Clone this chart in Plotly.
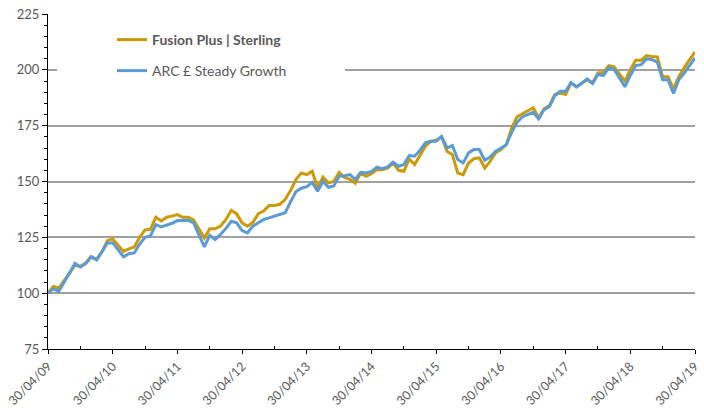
import plotly.graph_objects as go

# Monthly index (0 = 30/04/09 ... 120 = 30/04/19)
months = list(range(121))

fusion = [100, 103, 102.3, 105.5, 109, 112.5, 112, 113.5, 116.3, 115,
          118.5, 123.5, 124.3, 121.5, 118.7, 119.8, 120.7, 125, 128.3, 128.6,
          134, 132.3, 134, 134.5, 135.2, 134, 134, 132.8, 129, 124.7,
          128.8, 128.8, 130, 133, 137.1, 135.5, 131.5, 130, 131.7, 135.6,
          136.8, 139.2, 139.2, 139.8, 142, 146, 151, 153.8, 153.1, 154.6,
          147.1, 152, 149.4, 150, 154.1, 151.8, 151, 149.2, 153.8, 152.3,
          153.5, 155.3, 155.3, 156, 158.3, 155, 154.6, 160.1, 157.6, 162,
          165.8, 168, 168.5, 170, 163.5, 162, 153.8, 153.1, 158.3, 160.2,
          160.6, 156, 159, 162.8, 164.3, 166.5, 174, 179, 180.3, 181.5,
          183, 178.5, 182.5, 184, 188.9, 189.6, 189, 194.2, 192.4, 194,
          195.6, 194, 198.6, 198.8, 201.9, 201.3, 198, 194.9, 200, 204.3,
          204.3, 206.4, 206, 205.8, 196.9, 196.9, 191.5, 196.9, 201, 204.5,
          208]

arc = [100, 101.9, 100.8, 105, 109, 113.3, 111.7, 113.2, 116.3, 115,
       118.5, 122.5, 122.5, 119.5, 116.3, 117.7, 118, 122, 125, 125.6,
       130.7, 129.7, 130.5, 131.3, 132.5, 132.6, 132.6, 131.5, 126, 120.7,
       125.9, 124, 126.3, 129, 132.2, 131.5, 128, 127, 130, 131.4,
       133, 133.7, 134.5, 135, 136, 141, 145.5, 147, 147.7, 149.6,
       145.6, 150.1, 147.4, 148, 152.3, 152.6, 153.1, 150.9, 154.1, 153.8,
       154.5, 156.4, 155.7, 156.5, 158.6, 156.8, 157.6, 161.6, 161.3, 164,
       167.3, 168, 168, 170.2, 165, 166.1, 159.8, 158.3, 162.8, 164.3,
       164.3, 159.5, 161, 163.5, 165, 166.5, 172, 176.5, 179, 180,
       181, 178, 182.2, 183.5, 188.5, 190.4, 190.4, 194.2, 192.4, 194,
       195.9, 194, 197.9, 197.4, 200.9, 200.2, 196, 192.4, 197.5, 201.9,
       202.3, 204.9, 204.6, 203.5, 195.6, 195.6, 189.4, 195.6, 198.5, 202,
       205.4]

tick_months = [0, 12, 24, 36, 48, 60, 72, 84, 96, 108, 120]
tick_labels = ["30/04/09", "30/04/10", "30/04/11", "30/04/12", "30/04/13",
               "30/04/14", "30/04/15", "30/04/16", "30/04/17", "30/04/18",
               "30/04/19"]

GOLD = "#CC9A06"
BLUE = "#5B9BD5"
TEXT = "#595959"
FONT = "Lato"

fig = go.Figure()
fig.add_trace(go.Scatter(x=months, y=fusion, mode="lines",
                         name="<b>Fusion Plus | Sterling</b>",
                         line=dict(color=GOLD, width=3), legend="legend"))
fig.add_trace(go.Scatter(x=months, y=arc, mode="lines",
                         name="ARC £ Steady Growth",
                         line=dict(color=BLUE, width=3), legend="legend2"))

W, H = 704, 408
L, R, T, B = 48, 9, 14, 59
pw, ph = W - L - R, H - T - B

def px2x(px):
    return (px - L) / pw

def py2y(py):
    return (H - B - py) / ph

fig.update_layout(
    width=W, height=H,
    margin=dict(l=L, r=R, t=T, b=B),
    paper_bgcolor="white", plot_bgcolor="white",
    font=dict(family=FONT, color=TEXT, size=13),
    showlegend=True,
    legend=dict(x=px2x(112), y=py2y(40), xanchor="left", yanchor="middle",
                bgcolor="rgba(0,0,0,0)", font=dict(family=FONT, size=14, color=TEXT)),
    legend2=dict(x=px2x(112), y=py2y(71), xanchor="left", yanchor="middle",
                 bgcolor="rgba(0,0,0,0)", font=dict(family=FONT, size=14, color=TEXT)),
    shapes=[dict(type="rect", xref="paper", yref="paper",
                 x0=px2x(57), x1=px2x(345), y0=py2y(86), y1=py2y(22),
                 fillcolor="white", line=dict(width=0), layer="above")],
)

fig.update_xaxes(
    range=[0, 120], tickmode="array", tickvals=tick_months, ticktext=tick_labels,
    tickangle=-45, ticks="outside", ticklen=4, tickwidth=1.3, tickcolor="black",
    showline=True, linecolor="black", linewidth=1.3, showgrid=False, zeroline=False,
    automargin=False, ticklabeloverflow="allow",
    tickfont=dict(family=FONT, size=12.5, color=TEXT),
    minor=dict(tickmode="linear", tick0=6, dtick=12, ticks="inside", ticklen=3,
               tickwidth=1.2, tickcolor="black", showgrid=False),
)
fig.update_yaxes(
    range=[75, 225], tick0=75, dtick=25, ticks="outside", ticklen=5, tickwidth=1.3,
    tickcolor="black", showline=True, linecolor="black", linewidth=1.3,
    showgrid=True, gridcolor="#A0A0A0", gridwidth=1.5, zeroline=False,
    automargin=False, ticklabeloverflow="allow",
    tickfont=dict(family=FONT, size=13, color=TEXT),
    minor=dict(dtick=5, ticks="outside", ticklen=3, tickwidth=1.2,
               tickcolor="black", showgrid=False),
)

fig.write_html("out.html", config={"displayModeBar": False},
               post_script="document.body.style.margin='0';document.body.style.overflow='hidden';")
